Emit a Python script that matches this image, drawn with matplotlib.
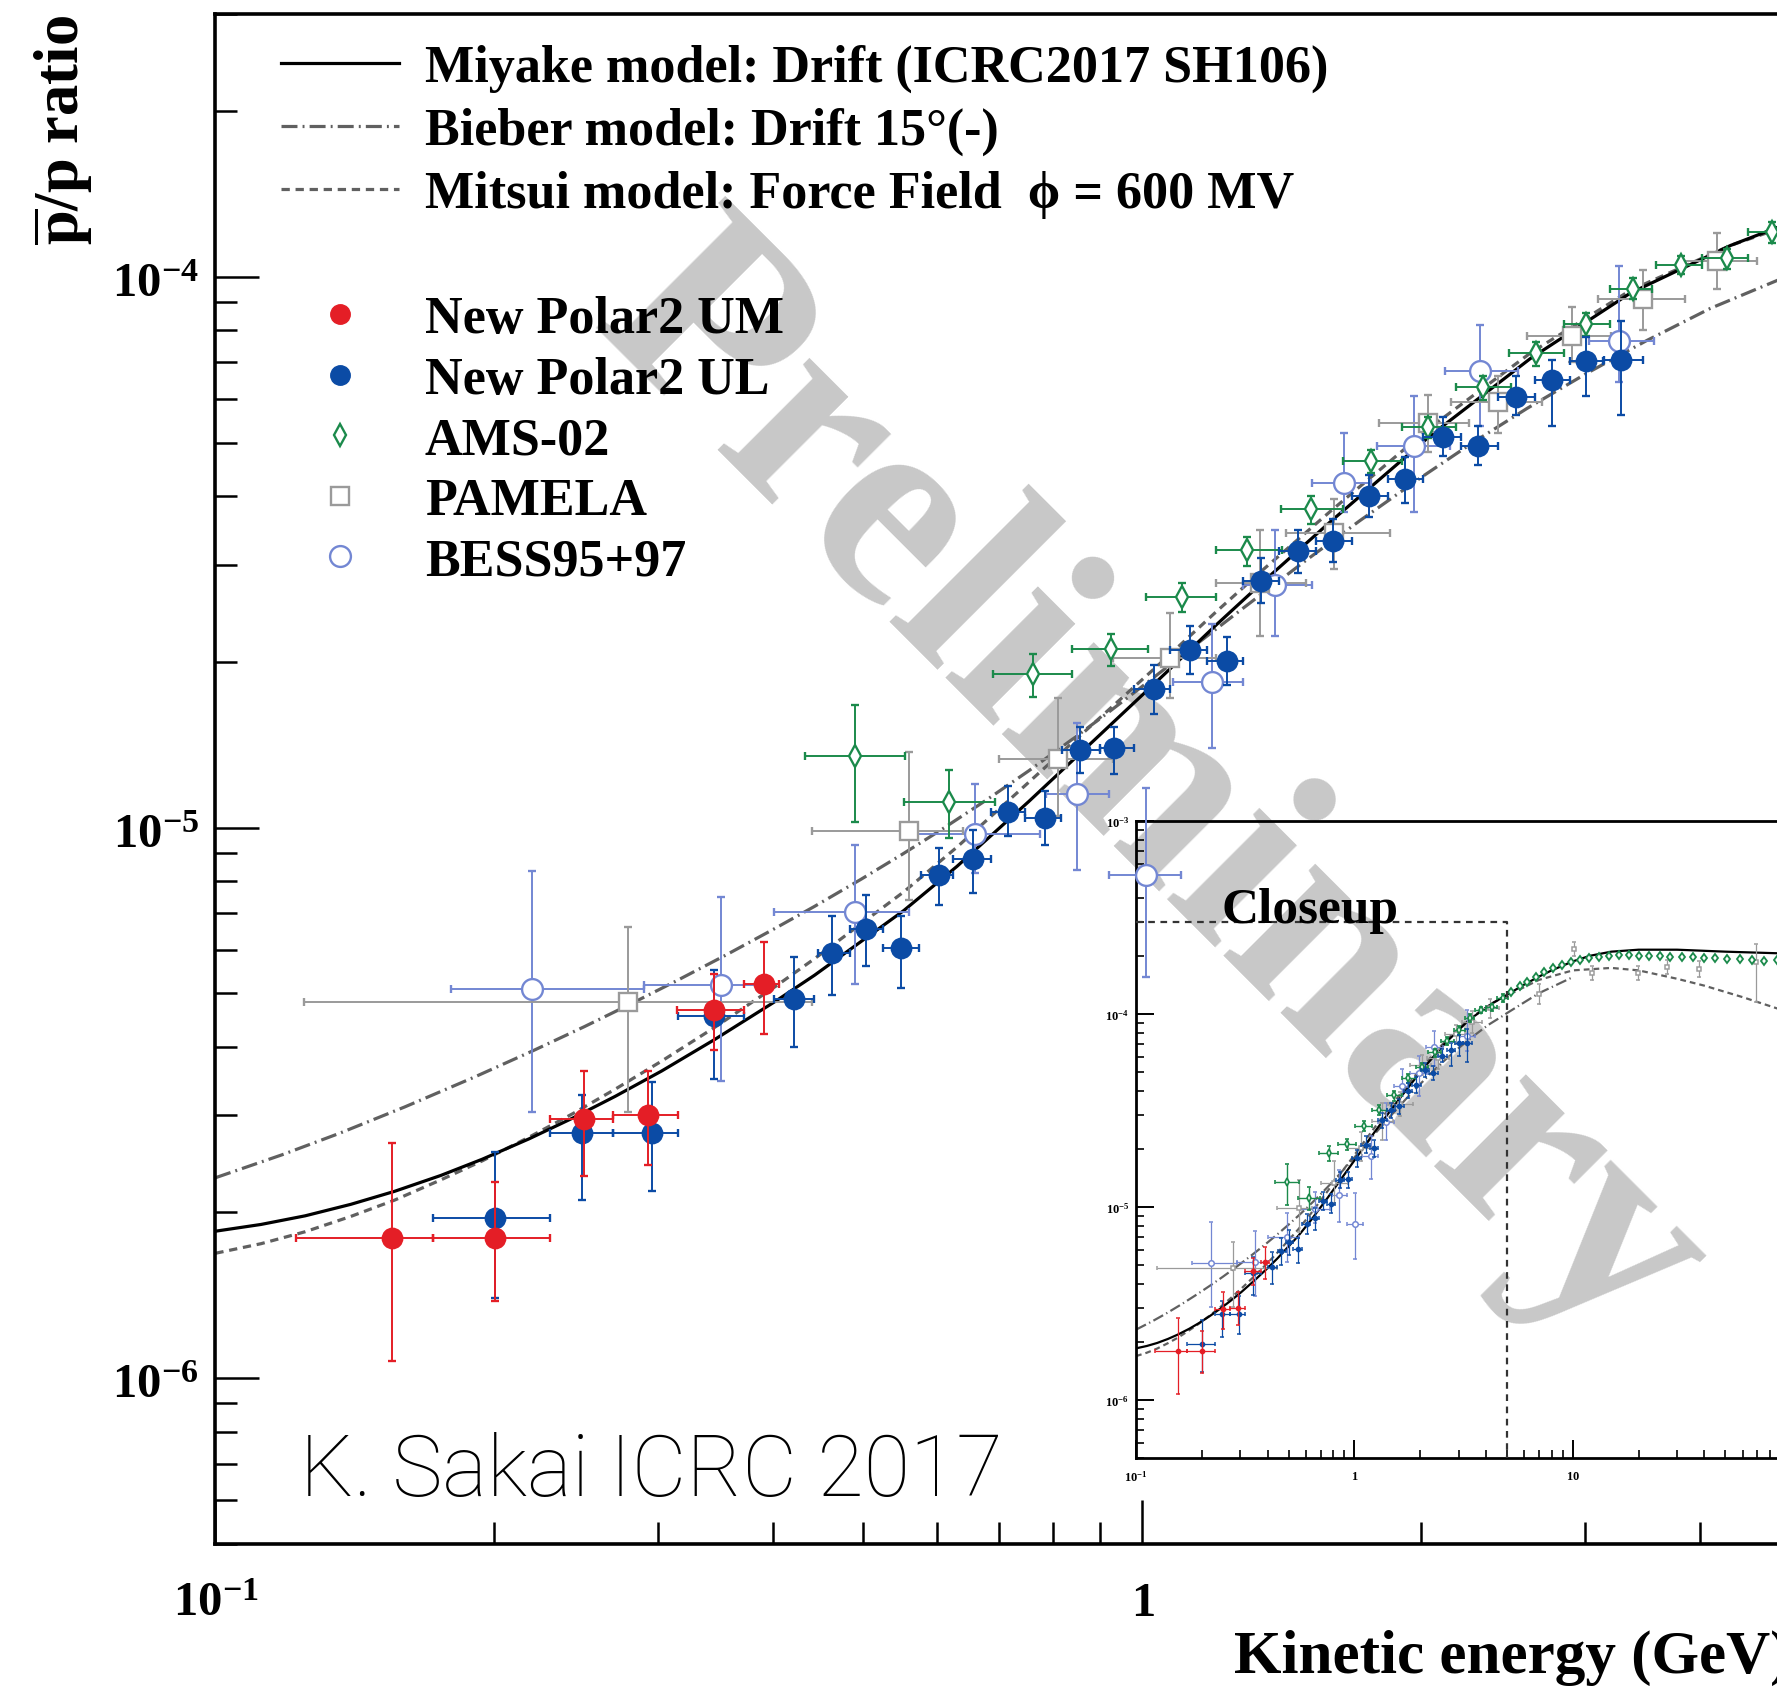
# pbar/p ratio vs kinetic energy, with closeup inset
import numpy as np
import matplotlib
matplotlib.use("Agg")
import matplotlib.pyplot as plt
from matplotlib.lines import Line2D
from matplotlib.ticker import FixedLocator, FixedFormatter, LogLocator, NullFormatter

plt.rcParams['mathtext.fontset'] = 'custom'
plt.rcParams['mathtext.rm'] = 'Liberation Serif'
plt.rcParams['mathtext.bf'] = 'Liberation Serif:bold'
plt.rcParams['mathtext.it'] = 'Liberation Serif:italic'
SERIF = ['Liberation Serif', 'DejaVu Serif']

# ---- model curves ----
miyake_e = [0.1, 0.112, 0.125, 0.14, 0.156, 0.175, 0.194, 0.218, 0.243, 0.27, 0.303, 0.346,
            0.402, 0.443, 0.553, 0.631, 0.754, 0.90, 1.045, 1.2, 1.354, 1.594, 2.044, 2.62,
            3.36, 4.31, 5.0]
miyake_r = [1.849e-6, 1.902e-6, 1.972e-6, 2.069e-6, 2.184e-6, 2.334e-6, 2.498e-6, 2.721e-6,
            2.968e-6, 3.250e-6, 3.613e-6, 4.126e-6, 4.836e-6, 5.393e-6, 7.069e-6, 8.501e-6,
            1.1146e-5, 1.4736e-5, 1.866e-5, 2.329e-5, 2.807e-5, 3.587e-5, 5.144e-5, 7.10e-5,
            9.34e-5, 1.14e-4, 1.255e-4]
miyake_hi_e = [6, 7, 8, 10, 12, 15, 20, 30, 50, 100]
miyake_hi_r = [1.42e-4, 1.56e-4, 1.68e-4, 1.87e-4, 2.0e-4, 2.1e-4, 2.15e-4, 2.15e-4, 2.1e-4, 2.05e-4]

bieber_e = [0.1, 0.118, 0.136, 0.16, 0.19, 0.22, 0.25, 0.279, 0.315, 0.355, 0.4, 0.443,
            0.497, 0.55, 0.606, 0.68, 0.754, 0.849, 0.92, 1.0, 1.13, 1.29, 1.5, 1.717, 2.0,
            2.275, 2.6, 3.01, 3.5, 4.1, 4.84, 5.0]
bieber_r = [2.312e-6, 2.545e-6, 2.783e-6, 3.108e-6, 3.518e-6, 3.931e-6, 4.348e-6, 4.759e-6,
            5.277e-6, 5.861e-6, 6.535e-6, 7.192e-6, 8.051e-6, 8.927e-6, 9.892e-6, 1.1241e-5,
            1.2673e-5, 1.4645e-5, 1.6206e-5, 1.8047e-5, 2.1184e-5, 2.516e-5, 3.052e-5,
            3.609e-5, 4.326e-5, 5.006e-5, 5.768e-5, 6.668e-5, 7.661e-5, 8.764e-5, 9.85e-5,
            1.01e-4]
bieber_hi_e = [7, 10]
bieber_hi_r = [1.28e-4, 1.55e-4]

mitsui_e = [0.1, 0.112, 0.125, 0.14, 0.156, 0.175, 0.194, 0.218, 0.243, 0.27, 0.303, 0.346,
            0.402, 0.443, 0.553, 0.631, 0.754, 0.90, 1.045, 1.2, 1.354, 1.594, 2.044, 2.62,
            3.36, 4.31, 5.0]
mitsui_r = [1.686e-6, 1.755e-6, 1.845e-6, 1.967e-6, 2.105e-6, 2.291e-6, 2.481e-6, 2.740e-6,
            3.023e-6, 3.349e-6, 3.766e-6, 4.341e-6, 5.146e-6, 5.779e-6, 7.644e-6, 9.214e-6,
            1.2081e-5, 1.5827e-5, 1.9856e-5, 2.461e-5, 2.953e-5, 3.747e-5, 5.325e-5,
            7.265e-5, 9.448e-5, 1.14e-4, 1.2435e-4]
mitsui_hi_e = [7, 10, 15, 20, 30, 40, 60, 90]
mitsui_hi_r = [1.50e-4, 1.68e-4, 1.73e-4, 1.68e-4, 1.52e-4, 1.40e-4, 1.22e-4, 1.05e-4]

# ---- New Polar2 UM ----
um_e = [0.155, 0.2005, 0.2497, 0.293, 0.345, 0.391]
um_r = [1.80e-6, 1.80e-6, 2.95e-6, 3.01e-6, 4.67e-6, 5.20e-6]
um_elo = [0.1223, 0.1719, 0.2296, 0.2683, 0.3145, 0.372]
um_ehi = [0.1719, 0.2296, 0.2683, 0.3157, 0.3715, 0.4055]
um_rlo = [1.073e-6, 1.383e-6, 2.33e-6, 2.44e-6, 3.95e-6, 4.22e-6]
um_rhi = [2.67e-6, 2.27e-6, 3.61e-6, 3.61e-6, 5.43e-6, 6.20e-6]

# ---- New Polar2 UL ----
ul_e = [0.2005, 0.2484, 0.2955, 0.345, 0.421, 0.4628, 0.5035, 0.549, 0.604, 0.657, 0.7168,
        0.7845, 0.8574, 0.933, 1.0285, 1.1259, 1.2333, 1.3418, 1.4728, 1.6066, 1.7556, 1.922,
        2.110, 2.299, 2.530, 2.765, 3.009, 3.282]
ul_r = [1.957e-6, 2.79e-6, 2.79e-6, 4.55e-6, 4.88e-6, 5.92e-6, 6.55e-6, 6.03e-6, 8.20e-6,
        8.77e-6, 1.069e-5, 1.039e-5, 1.382e-5, 1.393e-5, 1.787e-5, 2.097e-5, 2.008e-5,
        2.805e-5, 3.177e-5, 3.32e-5, 4.0e-5, 4.30e-5, 5.12e-5, 4.93e-5, 6.05e-5, 6.50e-5,
        7.03e-5, 7.07e-5]
ul_elo = [0.1719, 0.2296, 0.2683, 0.3157, 0.401, 0.4466, 0.4835, 0.5255, 0.5768, 0.6246,
          0.6866, 0.7472, 0.820, 0.9003, 0.979, 1.070, 1.1743, 1.284, 1.403, 1.539, 1.683,
          1.8388, 2.009, 2.206, 2.421, 2.65, 2.89, 3.144]
ul_ehi = [0.2296, 0.2683, 0.3157, 0.3715, 0.4425, 0.4835, 0.5245, 0.5745, 0.6246, 0.6866,
          0.7472, 0.8166, 0.9003, 0.979, 1.070, 1.1743, 1.284, 1.403, 1.539, 1.683, 1.8388,
          2.009, 2.206, 2.421, 2.65, 2.89, 3.14, 3.47]
ul_rlo = [1.397e-6, 2.11e-6, 2.19e-6, 3.49e-6, 4.00e-6, 4.97e-6, 5.60e-6, 5.12e-6, 7.22e-6,
          7.60e-6, 9.66e-6, 9.31e-6, 1.254e-5, 1.25e-5, 1.61e-5, 1.897e-5, 1.815e-5,
          2.556e-5, 2.903e-5, 3.035e-5, 3.66e-5, 3.885e-5, 4.72e-5, 4.545e-5, 5.6e-5,
          5.36e-5, 6.08e-5, 5.6e-5]
ul_rhi = [2.58e-6, 3.27e-6, 3.45e-6, 5.5e-6, 5.83e-6, 6.91e-6, 7.55e-6, 6.91e-6, 9.17e-6,
          9.88e-6, 1.19e-5, 1.164e-5, 1.523e-5, 1.52e-5, 1.97e-5, 2.32e-5, 2.22e-5, 3.08e-5,
          3.47e-5, 3.63e-5, 4.375e-5, 4.715e-5, 5.56e-5, 5.355e-5, 6.6e-5, 7.06e-5, 7.78e-5,
          8.3e-5]

# ---- AMS-02 ----
ams_e = [0.4893, 0.6187, 0.762, 0.9245, 1.104, 1.297, 1.519, 1.764, 2.033, 2.33, 2.657,
         3.009, 3.386, 3.812, 4.27, 4.775]
ams_r = [1.348e-5, 1.113e-5, 1.90e-5, 2.11e-5, 2.62e-5, 3.185e-5, 3.787e-5, 4.625e-5,
         5.33e-5, 6.31e-5, 7.27e-5, 8.2e-5, 9.5e-5, 1.05e-4, 1.084e-4, 1.204e-4]
ams_elo = [0.433, 0.5526, 0.6894, 0.8386, 1.010, 1.2009, 1.41, 1.646, 1.905, 2.177, 2.488,
           2.853, 3.196, 3.58, 4.013, 4.506]
ams_ehi = [0.5549, 0.6935, 0.8386, 1.0148, 1.2009, 1.4152, 1.646, 1.905, 2.177, 2.497,
           2.853, 3.196, 3.544, 4.013, 4.506, 5.06]
ams_rlo = [1.025e-5, 9.59e-6, 1.729e-5, 1.964e-5, 2.46e-5, 2.99e-5, 3.55e-5, 4.395e-5,
           5.10e-5, 5.98e-5, 6.90e-5, 7.8e-5, 9.11e-5, 1.011e-4, 1.033e-4, 1.15e-4]
ams_rhi = [1.666e-5, 1.273e-5, 2.069e-5, 2.245e-5, 2.78e-5, 3.37e-5, 4.0e-5, 4.857e-5,
           5.575e-5, 6.6e-5, 7.6e-5, 8.6e-5, 9.97e-5, 1.091e-4, 1.122e-4, 1.26e-4]
ams_hi_e = [5.2, 5.7, 6.2, 6.8, 7.4, 8.1, 8.9, 9.8, 10.8, 11.9, 13.2, 14.6, 16.2, 18.0, 20.0,
            22.3, 25.0, 28.0, 31.5, 35.5, 40.0, 45.0, 51.0, 58.0, 66.0, 75.0, 86.0]
ams_hi_r = [1.30e-4, 1.39e-4, 1.47e-4, 1.56e-4, 1.64e-4, 1.72e-4, 1.80e-4, 1.86e-4, 1.91e-4,
            1.95e-4, 1.98e-4, 2.0e-4, 2.01e-4, 2.01e-4, 2.0e-4, 2.0e-4, 1.99e-4, 1.98e-4,
            1.97e-4, 1.96e-4, 1.95e-4, 1.94e-4, 1.93e-4, 1.92e-4, 1.9e-4, 1.88e-4, 1.9e-4]

# ---- PAMELA ----
pam_e = [0.279, 0.560, 0.81, 1.07, 1.34, 1.61, 2.035, 2.42, 2.91, 3.47, 4.17]
pam_r = [4.82e-6, 9.85e-6, 1.33e-5, 2.03e-5, 2.78e-5, 3.42e-5, 5.43e-5, 5.92e-5, 7.82e-5,
         9.11e-5, 1.07e-4]
pam_elo = [0.1245, 0.4406, 0.70, 0.93, 1.20, 1.43, 1.80, 2.15, 2.60, 3.10, 3.80]
pam_ehi = [0.4406, 0.6405, 0.93, 1.20, 1.50, 1.85, 2.25, 2.70, 3.20, 3.85, 4.6]
pam_rlo = [3.04e-6, 7.4e-6, 1.05e-5, 1.72e-5, 2.23e-5, 2.95e-5, 4.8e-5, 5.2e-5, 7.0e-5,
           8.0e-5, 9.5e-5]
pam_rhi = [6.59e-6, 1.372e-5, 1.72e-5, 2.45e-5, 3.47e-5, 3.95e-5, 6.1e-5, 6.6e-5, 8.8e-5,
           1.03e-4, 1.2e-4]
pam_hi_e = [6.97, 10.1, 12.2, 19.8, 26.9, 38, 69]
pam_hi_r = [1.26e-4, 2.17e-4, 1.63e-4, 1.63e-4, 1.74e-4, 1.70e-4, 1.86e-4]
pam_hi_rlo = [1.12e-4, 2.0e-4, 1.5e-4, 1.5e-4, 1.6e-4, 1.55e-4, 1.15e-4]
pam_hi_rhi = [1.42e-4, 2.35e-4, 1.78e-4, 1.78e-4, 1.9e-4, 1.87e-4, 2.3e-4]

# ---- BESS95+97 ----
bess_e = [0.2195, 0.3507, 0.4893, 0.66, 0.85, 1.01, 1.19, 1.39, 1.649, 1.965, 2.316, 3.27]
bess_r = [5.09e-6, 5.18e-6, 7.01e-6, 9.73e-6, 1.15e-5, 8.2e-6, 1.84e-5, 2.76e-5, 4.22e-5,
          4.93e-5, 6.75e-5, 7.65e-5]
bess_elo = [0.1795, 0.29, 0.401, 0.5626, 0.788, 0.92, 1.08, 1.284, 1.525, 1.793, 2.12, 3.03]
bess_ehi = [0.29, 0.40, 0.560, 0.7745, 0.9206, 1.10, 1.284, 1.525, 1.766, 2.148, 2.542, 3.56]
bess_rlo = [3.04e-6, 3.47e-6, 5.2e-6, 8.27e-6, 8.38e-6, 5.36e-6, 1.396e-5, 2.23e-5, 3.74e-5,
            3.74e-5, 5.355e-5, 6.44e-5]
bess_rhi = [8.33e-6, 7.49e-6, 9.31e-6, 1.2e-5, 1.546e-5, 1.181e-5, 2.337e-5, 3.47e-5,
            5.195e-5, 6.08e-5, 8.19e-5, 1.047e-4]

C_UM = '#e41e26'
C_UL = '#0b4ba5'
C_AMS = '#1b8a4b'
C_PAM = '#9a9a9a'
C_BESS = '#7387d3'
C_MODEL = '#606060'

xlim_main = (0.1, 5.0)
ylim_main = (5e-7, 3e-4)


def points(ax, e, r, elo, ehi, rlo, rhi, color, marker, ms, filled, lw, cap, z):
    e = np.array(e)
    r = np.array(r)
    xerr = None if elo is None else [e - np.array(elo), np.array(ehi) - e]
    yerr = None if rlo is None else [r - np.array(rlo), np.array(rhi) - r]
    ax.errorbar(e, r, xerr=xerr, yerr=yerr, fmt=marker, color=color, ms=ms,
                mfc=color if filled else 'white', mec=color, mew=lw * 1.2,
                elinewidth=lw, capsize=cap, capthick=lw, zorder=z)


def curves(ax, extend, lw):
    me, mr = list(miyake_e), list(miyake_r)
    be, br = list(bieber_e), list(bieber_r)
    te, tr = list(mitsui_e), list(mitsui_r)
    if extend:
        me += miyake_hi_e; mr += miyake_hi_r
        be += bieber_hi_e; br += bieber_hi_r
        te += mitsui_hi_e; tr += mitsui_hi_r
    ax.plot(be, br, color=C_MODEL, lw=lw, dashes=(5, 1.6, 0.6, 1.6), zorder=2)
    ax.plot(te, tr, color=C_MODEL, lw=lw, dashes=(2.6, 1.8), zorder=2)
    ax.plot(me, mr, color='black', lw=lw, zorder=3)


fig = plt.figure(figsize=(17.77, 16.90), dpi=100)

# watermark under everything
fig.text(0.647, 0.532, "Preliminary", rotation=-45, fontsize=203, color='#c8c8c8',
         family=SERIF, weight='bold', ha='center', va='center', zorder=-1)

# ---------------- inset ----------------
ax_in = fig.add_axes([0.6393, 0.1367, 0.4427, 0.3770])
ax_in.set_zorder(1)
ax_in.patch.set_facecolor('none')
ax_in.set_xscale('log')
ax_in.set_yscale('log')
ax_in.set_xlim(0.1, 400)
ax_in.set_ylim(5e-7, 1e-3)

curves(ax_in, True, 1.6)
points(ax_in, bess_e, bess_r, bess_elo, bess_ehi, bess_rlo, bess_rhi, C_BESS, 'o', 4, False, 0.9, 1.5, 4)
points(ax_in, pam_e, pam_r, pam_elo, pam_ehi, pam_rlo, pam_rhi, C_PAM, 's', 3.5, False, 0.9, 1.5, 4)
points(ax_in, pam_hi_e, pam_hi_r, None, None, pam_hi_rlo, pam_hi_rhi, C_PAM, 's', 3.5, False, 0.9, 1.5, 4)
points(ax_in, ams_e, ams_r, ams_elo, ams_ehi, ams_rlo, ams_rhi, C_AMS, 'd', 4, False, 1.0, 1.5, 5)
points(ax_in, ams_hi_e, ams_hi_r, None, None, None, None, C_AMS, 'd', 4.5, False, 1.1, 1.5, 5)
points(ax_in, ul_e, ul_r, ul_elo, ul_ehi, ul_rlo, ul_rhi, C_UL, 'o', 3, True, 0.9, 1.5, 6)
points(ax_in, um_e, um_r, um_elo, um_ehi, um_rlo, um_rhi, C_UM, 'o', 3, True, 0.9, 1.5, 7)

# closeup box = limits of the main panel
ax_in.plot([xlim_main[0], xlim_main[1], xlim_main[1]],
           [ylim_main[1], ylim_main[1], ylim_main[0]],
           color='#333333', lw=1.6, dashes=(3, 2.5), zorder=8)
ax_in.text(0.245, 3.0e-4, "Closeup", fontsize=37, family=SERIF, weight='bold',
           va='baseline', ha='left', zorder=9)

ax_in.xaxis.set_major_locator(FixedLocator([0.1, 1, 10, 100]))
ax_in.xaxis.set_major_formatter(FixedFormatter([r"$\mathbf{10^{-1}}$", r"$\mathbf{1}$",
                                                r"$\mathbf{10}$", ""]))
ax_in.xaxis.set_minor_locator(LogLocator(base=10, subs=np.arange(2, 10)))
ax_in.xaxis.set_minor_formatter(NullFormatter())
ax_in.yaxis.set_major_locator(FixedLocator([1e-6, 1e-5, 1e-4, 1e-3]))
ax_in.yaxis.set_major_formatter(FixedFormatter([r"$\mathbf{10^{-6}}$", r"$\mathbf{10^{-5}}$",
                                                r"$\mathbf{10^{-4}}$", r"$\mathbf{10^{-3}}$"]))
ax_in.yaxis.set_minor_locator(LogLocator(base=10, subs=np.arange(2, 10)))
ax_in.yaxis.set_minor_formatter(NullFormatter())
ax_in.tick_params(which='major', direction='in', length=13, width=1.4, labelsize=9,
                  top=False, right=False)
ax_in.tick_params(which='minor', direction='in', length=6, width=1.2, top=False, right=False)
ax_in.tick_params(axis='x', pad=8)
ax_in.tick_params(axis='y', pad=5)
for s in ax_in.spines.values():
    s.set_linewidth(2.0)

# ---------------- main panel ----------------
ax = fig.add_axes([0.1212, 0.0858, 0.8863, 0.9053])
ax.set_zorder(2)
ax.patch.set_facecolor('none')
ax.set_xscale('log')
ax.set_yscale('log')
ax.set_xlim(*xlim_main)
ax.set_ylim(*ylim_main)

curves(ax, False, 2.3)
points(ax, bess_e, bess_r, bess_elo, bess_ehi, bess_rlo, bess_rhi, C_BESS, 'o', 15, False, 1.4, 3, 4)
points(ax, pam_e, pam_r, pam_elo, pam_ehi, pam_rlo, pam_rhi, C_PAM, 's', 13, False, 1.4, 3, 4)
points(ax, ams_e, ams_r, ams_elo, ams_ehi, ams_rlo, ams_rhi, C_AMS, 'd', 11, False, 1.4, 3, 5)
points(ax, ul_e, ul_r, ul_elo, ul_ehi, ul_rlo, ul_rhi, C_UL, 'o', 14, True, 1.4, 3, 6)
points(ax, um_e, um_r, um_elo, um_ehi, um_rlo, um_rhi, C_UM, 'o', 14, True, 1.4, 3, 7)

ax.xaxis.set_major_locator(FixedLocator([0.1, 1]))
ax.xaxis.set_major_formatter(FixedFormatter([r"$\mathbf{10^{-1}}$", r"$\mathbf{1}$"]))
ax.xaxis.set_minor_locator(LogLocator(base=10, subs=np.arange(2, 10)))
ax.xaxis.set_minor_formatter(NullFormatter())
ax.yaxis.set_major_locator(FixedLocator([1e-6, 1e-5, 1e-4]))
ax.yaxis.set_major_formatter(FixedFormatter([r"$\mathbf{10^{-6}}$", r"$\mathbf{10^{-5}}$",
                                             r"$\mathbf{10^{-4}}$"]))
ax.yaxis.set_minor_locator(LogLocator(base=10, subs=np.arange(2, 10)))
ax.yaxis.set_minor_formatter(NullFormatter())
ax.tick_params(which='major', direction='in', length=32, width=1.8, labelsize=35,
               top=False, right=False)
ax.tick_params(which='minor', direction='in', length=16, width=1.8, top=False, right=False)
ax.tick_params(axis='x', pad=24)
ax.tick_params(axis='y', pad=12)
for s in ax.spines.values():
    s.set_linewidth(2.6)

ax.set_xlabel("Kinetic energy (GeV)", loc='right', fontsize=44, family=SERIF, weight='bold')
ax.xaxis.set_label_coords(1.0, -0.0556)
ax.set_ylabel(r"$\mathbf{\overline{p}/p\ ratio}$", loc='top', fontsize=45)
ax.yaxis.set_label_coords(-0.076, 1.0)

# legends
lfont = dict(family=SERIF, weight='bold', size=37.5)
h1 = [Line2D([], [], color='black', lw=2.3),
      Line2D([], [], color=C_MODEL, lw=2.3, dashes=(5, 1.6, 0.6, 1.6)),
      Line2D([], [], color=C_MODEL, lw=2.3, dashes=(2.6, 1.8))]
l1 = ["Miyake model: Drift (ICRC2017 SH106)",
      "Bieber model: Drift 15°(-)",
      "Mitsui model: Force Field  \u03d5 = 600 MV"]
leg1 = ax.legend(h1, l1, loc='upper left', bbox_to_anchor=(0.0417, 0.9805), frameon=False,
                 prop=lfont, handlelength=2.26, handletextpad=0.5, labelspacing=0.284,
                 borderpad=0, borderaxespad=0)
ax.add_artist(leg1)

h2 = [Line2D([], [], ls='none', marker='o', ms=14, color=C_UM),
      Line2D([], [], ls='none', marker='o', ms=14, color=C_UL),
      Line2D([], [], ls='none', marker='d', ms=11, mfc='white', mec=C_AMS, mew=1.7),
      Line2D([], [], ls='none', marker='s', ms=13, mfc='white', mec=C_PAM, mew=1.7),
      Line2D([], [], ls='none', marker='o', ms=15, mfc='white', mec=C_BESS, mew=1.7)]
l2 = ["New Polar2 UM", "New Polar2 UL", "AMS-02", "PAMELA", "BESS95+97"]
ax.legend(h2, l2, loc='upper left', bbox_to_anchor=(0.0417, 0.8161), frameon=False,
          prop=lfont, handlelength=2.26, handletextpad=0.5, labelspacing=0.24,
          borderpad=0, borderaxespad=0, numpoints=1)

fig.text(300 / 1777, 1 - 1496 / 1690, "K. Sakai ICRC 2017", fontsize=61,
         family=['Roboto', 'DejaVu Sans'], weight='light', va='baseline', ha='left')

fig.savefig("out.png", dpi=100)
